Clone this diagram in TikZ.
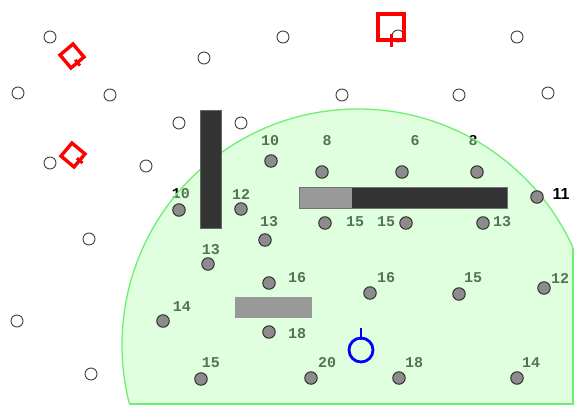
\documentclass[tikz,border=0pt]{standalone}
\usepackage{fontspec}
\newfontfamily\lblfont{Liberation Mono}
\newfontfamily\lblsans{Liberation Sans}
\definecolor{zonefill}{RGB}{186,255,186}
\definecolor{zoneline}{RGB}{110,240,110}
\begin{document}
\begin{tikzpicture}[x=1pt,y=-1pt,
  hollow/.style={circle,draw=black!75,fill=white,line width=0.9pt,minimum size=12pt,inner sep=0pt},
  sensor/.style={circle,draw=black!85,fill=black!45,line width=0.9pt,minimum size=12.5pt,inner sep=0pt},
  lbl/.style={font=\lblfont\bfseries\fontsize{15}{15}\selectfont,text=black,inner sep=0pt},
  lblb/.style={font=\lblsans\bfseries\fontsize{16}{16}\selectfont,text=black,inner sep=0pt},
  darkbar/.style={fill=black!80,draw=black!60,line width=0.6pt},
  graybar/.style={fill=black!40},
  redmark/.style={draw=red,line width=3.4pt},
  bluemark/.style={draw=blue,line width=2.8pt}]
\useasboundingbox (0,0) rectangle (579,410);
\fill[white] (0,0) rectangle (579,410);
% labels (under the zone overlay)
\foreach \x/\y/\t [count=\i] in {270/141/10, 327/141/8, 415/141/6, 473/141/8,
  181/194/10, 241/194/12, 269/222/13, 355/222/15, 386/222/15, 502/222/13,
  211/250/13, 297/278/16, 386/278/16, 473/278/15, 560/278/12, 182/307/14,
  297/334/18, 211/363/15, 327/363/20, 414/363/18, 531/363/14}
  \node[lbl] (l\i) at (\x,\y) {\t};
\node[lblb] (l11b) at (561,194) {11};
% zone
\begin{scope}
  \clip (0,0) rectangle (573,404);
  \fill[zonefill,fill opacity=0.45] (358,345) circle[radius=236pt];
  \draw[zoneline,line width=1.3pt] (358,345) circle[radius=236pt];
\end{scope}
\begin{scope}
  \clip (358,345) circle[radius=236pt];
  \draw[zoneline,line width=1.3pt] (573,0) -- (573,404) -- (0,404);
\end{scope}
% bars
\draw[darkbar] (200,110) rectangle (221,228);
\fill[graybar] (299,187) rectangle (352,208);
\fill[black!80] (352,187) rectangle (507,208);
\draw[black!55,line width=0.5pt] (299,187) rectangle (507,208);
\fill[graybar] (235,297) rectangle (312,318);
% hollow circles
\foreach \x/\y [count=\i] in {50/37, 204/58, 18/93, 110/95, 179/123, 241/123,
  50/163, 146/166, 283/37, 398/36, 517/37, 342/95, 459/95, 548/93, 89/239,
  17/321, 91/374}
  \node[hollow] (h\i) at (\x,\y) {};
% sensors
\foreach \x/\y [count=\i] in {271/161, 322/172, 402/172, 477/172, 537/197,
  179/210, 241/209, 265/240, 208/264, 269/283, 163/321, 269/332, 201/379,
  325/223, 406/223, 483/223, 370/293, 459/294, 544/288, 311/378, 399/378, 517/378}
  \node[sensor] (s\i) at (\x,\y) {};
% red markers
\begin{scope}[shift={(391,27)}]
  \draw[redmark] (-13,-13) rectangle (13,13);
  \draw[red,line width=3pt] (0,7) -- (0,20);
\end{scope}
\begin{scope}[shift={(72,56)},rotate=40]
  \draw[redmark] (-8.5,-8.5) rectangle (8.5,8.5);
  \draw[red,line width=3pt] (0,5) -- (0,12.5);
\end{scope}
\begin{scope}[shift={(73,155)},rotate=50]
  \draw[redmark] (-8.5,-8.5) rectangle (8.5,8.5);
  \draw[red,line width=3pt] (0,5) -- (0,12.5);
\end{scope}
% blue marker
\draw[bluemark] (361,350) circle[radius=12pt];
\draw[bluemark] (361,328) -- (361,340);
\end{tikzpicture}
\end{document}
